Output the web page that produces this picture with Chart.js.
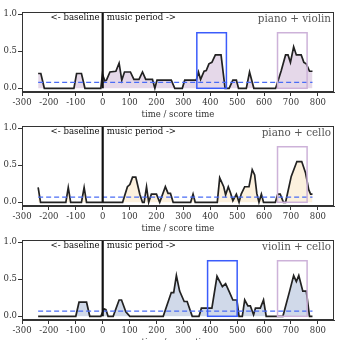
<!DOCTYPE html>
<html>
<head>
<meta charset="utf-8">
<script src="https://cdn.jsdelivr.net/npm/chart.js@4.4.1/dist/chart.umd.min.js"></script>
<style>
  html, body { margin: 0; padding: 0; background: #fff; }
  #wrap { position: relative; width: 340px; height: 340px; overflow: hidden; }
  canvas { position: absolute; left: 0; }
</style>
</head>
<body>
<div id="wrap">
  <canvas id="c0" width="340" height="120" style="top:0px"></canvas>
  <canvas id="c1" width="340" height="120" style="top:114px"></canvas>
  <canvas id="c2" width="340" height="120" style="top:228px"></canvas>
</div>
<script>
const xTicks = [-300, -200, -100, 0, 100, 200, 300, 400, 500, 600, 700, 800];
const yTicks = [0, 0.5, 1];
const titles = ["piano + violin", "piano + cello", "violin + cello"];

// piano + violin
const pvTime = [-240,-230,-217,-107,-97,-79,-66,-7,-1,8,14,27,49,61,71,81,103,116,135,148,160,185,194,202,255,268,296,305,348,356,364,377,385,395,406,419,440,455,470,484,497,505,534,546,562,643,664,680,689,698,710,720,738,748,757,769,780];
const pvValue = [0.2,0.2,0,0,0.2,0.2,0,0,0.19,0.1,0.11,0.22,0.23,0.34,0.11,0.22,0.22,0.12,0.12,0.22,0.12,0.12,0,0.11,0.11,0,0,0.11,0.11,0.22,0.12,0.23,0.24,0.33,0.35,0.45,0.45,0,0,0.11,0.11,0,0,0.22,0,0,0.24,0.45,0.45,0.35,0.56,0.45,0.45,0.35,0.33,0.23,0.23];

// piano + cello
const pcTime = [-240,-231,-137,-128,-119,-79,-69,-60,74,92,101,111,123,138,148,154,163,171,181,200,212,233,243,252,262,327,336,344,426,435,450,457,467,476,484,497,507,515,528,544,556,565,573,581,590,598,642,651,660,672,680,701,722,740,754,766,773,780];
const pcValue = [0.2,0,0,0.2,0,0,0.2,0,0,0.21,0.24,0.34,0.34,0.11,0,0,0.21,0,0.11,0.11,0,0.21,0.12,0.12,0,0,0.11,0,0,0.33,0.21,0.1,0.21,0.12,0.02,0.11,0,0.11,0.21,0.21,0.44,0.37,0.12,0,0.11,0,0,0.11,0.11,0,0,0.35,0.55,0.55,0.4,0.17,0.11,0.11];

// violin + cello
const vcTime = [-240,-100,-88,-60,-48,-7,5,12,20,39,61,70,86,101,225,255,264,274,286,303,314,333,358,367,406,425,445,457,472,484,499,507,519,528,540,549,561,568,586,598,608,670,695,710,720,729,744,757,769,780];
const vcValue = [0,0,0.19,0.19,0,0,0.1,0.09,0,0,0.22,0.22,0.06,0,0,0.32,0.32,0.55,0.34,0.2,0.2,0,0,0.11,0.11,0.54,0.4,0.44,0.32,0.22,0.22,0,0,0.22,0.14,0.14,0.02,0.11,0.11,0.22,0,0,0.34,0.55,0.47,0.55,0.34,0.34,0,0];

const baselineLevel = [0.08, 0.07, 0.07];
const baselineSpan = [-240, 780];
const blueBoxes = [[350, 460], null, [390, 500]];
const purpleBoxes = [[650, 760], [650, 760], [650, 760]];
const boxTop = 0.75;

const series = [[pvTime, pvValue], [pcTime, pcValue], [vcTime, vcValue]];
const fills = ["rgba(212,190,218,0.6)", "rgba(250,228,190,0.5)", "rgba(176,192,218,0.6)"];

const SERIF = "'DejaVu Serif', serif";

function drawBox(ctx, x, y, range, color) {
  if (!range) return;
  const l = x.getPixelForValue(range[0]);
  const r = x.getPixelForValue(range[1]);
  const t = y.getPixelForValue(boxTop);
  const b = y.getPixelForValue(0);
  ctx.strokeStyle = color;
  ctx.lineWidth = 1.5;
  ctx.strokeRect(l, t, r - l, b - t);
}

function extrasPlugin(idx) {
  return {
    id: "extras" + idx,
    afterDatasetsDraw(chart) {
      const ctx = chart.ctx;
      const x = chart.scales.x, y = chart.scales.y;
      const area = chart.chartArea;
      ctx.save();

      // baseline mean (dashed)
      ctx.strokeStyle = "#4a6cf5";
      ctx.lineWidth = 1.2;
      ctx.setLineDash([5, 3]);
      ctx.beginPath();
      ctx.moveTo(x.getPixelForValue(baselineSpan[0]), y.getPixelForValue(baselineLevel[idx]));
      ctx.lineTo(x.getPixelForValue(baselineSpan[1]), y.getPixelForValue(baselineLevel[idx]));
      ctx.stroke();
      ctx.setLineDash([]);

      drawBox(ctx, x, y, blueBoxes[idx], "#3b5cfb");
      drawBox(ctx, x, y, purpleBoxes[idx], "#cdb2d9");

      // music start line
      const x0 = x.getPixelForValue(0);
      ctx.strokeStyle = "#111";
      ctx.lineWidth = 2.2;
      ctx.beginPath();
      ctx.moveTo(x0, y.getPixelForValue(0));
      ctx.lineTo(x0, area.top);
      ctx.stroke();

      ctx.fillStyle = "#111";
      ctx.font = "8.6px " + SERIF;
      ctx.textBaseline = "middle";
      const ty = y.getPixelForValue(0.95);
      ctx.textAlign = "right";
      ctx.fillText("<- baseline", x0 - 3, ty);
      ctx.textAlign = "left";
      ctx.fillText("music period ->", x0 + 4, ty);

      ctx.fillStyle = "#555";
      ctx.font = "10.4px " + SERIF;
      ctx.textAlign = "right";
      ctx.fillText(titles[idx], area.right - 3, y.getPixelForValue(0.93));

      // frame
      ctx.strokeStyle = "#333";
      ctx.lineWidth = 1;
      ctx.strokeRect(area.left + 0.5, area.top + 0.5, area.right - area.left - 1, area.bottom - area.top - 1);
      ctx.restore();
    }
  };
}

function makeChart(idx) {
  const [times, values] = series[idx];
  const ctx = document.getElementById("c" + idx).getContext("2d");
  return new Chart(ctx, {
    type: "line",
    data: {
      datasets: [{
        data: times.map((t, i) => ({ x: t, y: values[i] })),
        borderColor: "#222",
        borderWidth: 1.7,
        backgroundColor: fills[idx],
        fill: "origin",
        pointRadius: 0,
        tension: 0
      }]
    },
    options: {
      responsive: false,
      animation: false,
      events: [],
      layout: { padding: { top: 12, right: 6, left: 0, bottom: 0 } },
      plugins: { legend: { display: false }, tooltip: { enabled: false } },
      scales: {
        x: {
          type: "linear",
          min: -300,
          max: 860,
          afterBuildTicks: s => { s.ticks = xTicks.map(v => ({ value: v })); },
          afterFit: s => { s.height = 28; },
          grid: { drawOnChartArea: false, drawTicks: true, tickLength: 4, tickColor: "#333" },
          border: { display: true, color: "#333" },
          ticks: { autoSkip: false, maxRotation: 0, padding: 2, color: "#333", font: { family: SERIF, size: 8.5 } },
          title: { display: true, text: "time / score time", color: "#333", padding: { top: 0, bottom: 0 }, font: { family: SERIF, size: 8.5 } }
        },
        y: {
          min: -0.05,
          max: 1.03,
          afterBuildTicks: s => { s.ticks = yTicks.map(v => ({ value: v })); },
          afterFit: s => { s.width = 22; },
          grid: { drawOnChartArea: false, drawTicks: true, tickLength: 4, tickColor: "#333" },
          border: { display: true, color: "#333" },
          ticks: { padding: 1, color: "#333", font: { family: SERIF, size: 8.5 }, callback: v => v.toFixed(1) }
        }
      }
    },
    plugins: [extrasPlugin(idx)]
  });
}

[0, 1, 2].forEach(makeChart);
</script>
</body>
</html>
